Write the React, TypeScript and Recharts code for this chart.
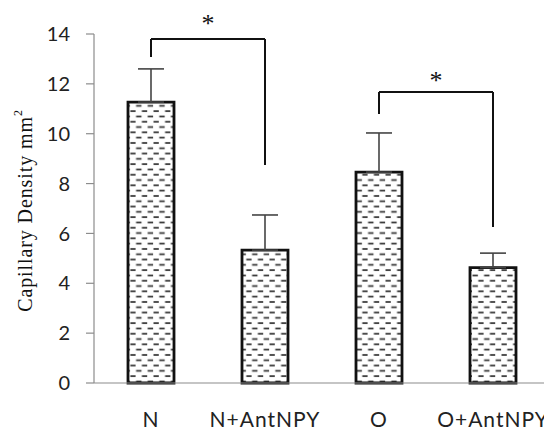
import { BarChart, Bar, XAxis, YAxis, ErrorBar, ReferenceLine, Label } from 'recharts';

const groups = ['N', 'N+AntNPY', 'O', 'O+AntNPY'];
const density = [11.27, 5.33, 8.46, 4.63];
const upperError = [1.33, 1.41, 1.57, 0.58];
const yTicks = [0, 2, 4, 6, 8, 10, 12, 14];

// significance brackets: from group, to group, top, left foot, right foot
const brackets = [
  { from: 'N', to: 'N+AntNPY', top: 13.8, leftEnd: 13.08, rightEnd: 8.74, starLift: 7 },
  { from: 'O', to: 'O+AntNPY', top: 11.67, leftEnd: 10.79, rightEnd: 6.26, starLift: 3 },
];

const data = groups.map((g, i) => ({
  group: g,
  density: density[i],
  err: [0, upperError[i]],
}));

const Star = (lift: number) => (props: any) => {
  const { viewBox } = props;
  return (
    <text
      x={viewBox.x + viewBox.width / 2}
      y={viewBox.y - lift}
      textAnchor="middle"
      fontFamily="Liberation Serif"
      fontSize={26}
      fill="#111"
    >
      *
    </text>
  );
};

const YTitle = (props: any) => {
  const { viewBox } = props;
  const cx = 17;
  const cy = viewBox.y + viewBox.height / 2 + 2;
  return (
    <text
      x={cx}
      y={cy}
      transform={`rotate(-90, ${cx}, ${cy})`}
      textAnchor="middle"
      dominantBaseline="central"
      fontFamily="Liberation Serif"
      fontSize={20}
      letterSpacing={0.9}
      fill="#111"
    >
      Capillary  Density mm
      <tspan fontSize={12} dy={-7}>2</tspan>
    </text>
  );
};

export default function App() {
  return (
    <BarChart
      width={544}
      height={424}
      data={data}
      margin={{ top: 26, right: 2, bottom: 0, left: 0 }}
    >
      <defs>
        <pattern id="dashFill" patternUnits="userSpaceOnUse" width={11.6} height={10.6}>
          <rect x={0} y={0} width={11.6} height={10.6} fill="#fff" />
          <rect x={0.5} y={1.6} width={5.4} height={1.7} fill="#333" />
          <rect x={6.3} y={6.9} width={5.4} height={1.7} fill="#333" />
        </pattern>
      </defs>
      <XAxis
        dataKey="group"
        axisLine={{ stroke: '#8c8c8c', strokeWidth: 1.2 }}
        tickLine={false}
        tickSize={0}
        tickMargin={29}
        tick={{ fontSize: 21, fill: '#222', fontFamily: 'Lato', letterSpacing: 1 }}
        height={49}
      />
      <YAxis
        domain={[0, 14]}
        ticks={yTicks}
        width={86}
        axisLine={{ stroke: '#8c8c8c', strokeWidth: 1.2 }}
        tickLine={{ stroke: '#8c8c8c', strokeWidth: 1.2 }}
        tickSize={8}
        tickMargin={16}
        tick={{ fontSize: 20, fill: '#222', fontFamily: 'Lato' }}
      >
        <Label content={YTitle} />
      </YAxis>
      <Bar
        dataKey="density"
        barSize={46}
        fill="url(#dashFill)"
        stroke="#111"
        strokeWidth={2.8}
        isAnimationActive={false}
      >
        <ErrorBar dataKey="err" width={13} stroke="#444" strokeWidth={1.6} />
      </Bar>
      {brackets.map((b, i) => (
        <ReferenceLine
          key={`l${i}`}
          segment={[{ x: b.from, y: b.leftEnd }, { x: b.from, y: b.top }]}
          stroke="#111"
          strokeWidth={2}
          ifOverflow="visible"
        />
      ))}
      {brackets.map((b, i) => (
        <ReferenceLine
          key={`t${i}`}
          segment={[{ x: b.from, y: b.top }, { x: b.to, y: b.top }]}
          stroke="#111"
          strokeWidth={2}
          ifOverflow="visible"
        >
          <Label content={Star(b.starLift)} />
        </ReferenceLine>
      ))}
      {brackets.map((b, i) => (
        <ReferenceLine
          key={`r${i}`}
          segment={[{ x: b.to, y: b.top }, { x: b.to, y: b.rightEnd }]}
          stroke="#111"
          strokeWidth={2}
          ifOverflow="visible"
        />
      ))}
    </BarChart>
  );
}
